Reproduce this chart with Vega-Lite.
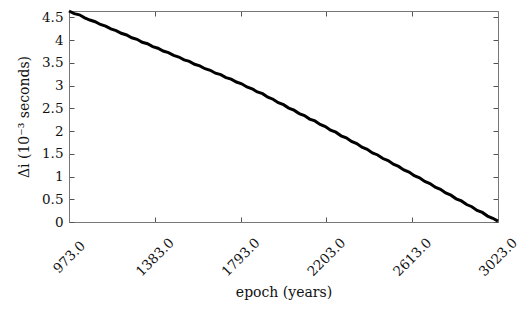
{
  "$schema": "https://vega.github.io/schema/vega-lite/v6.json",
  "width": 429,
  "height": 211,
  "autosize": "none",
  "padding": {"left": 69, "top": 11, "right": 24, "bottom": 89},
  "background": "white",
  "config": {
    "font": "DejaVu Serif",
    "view": {"stroke": null},
    "style": {
      "guide-title": {"font": "DejaVu Serif", "fontWeight": "normal"},
      "guide-label": {"font": "DejaVu Serif"}
    },
    "axis": {
      "labelFont": "DejaVu Serif",
      "titleFont": "DejaVu Serif",
      "labelFontSize": 13.5,
      "titleFontSize": 14,
      "titleFontWeight": "normal",
      "labelColor": "#111",
      "titleColor": "#111",
      "domainColor": "#777",
      "tickColor": "#555",
      "domainWidth": 1,
      "tickWidth": 1,
      "grid": false
    }
  },
  "data": {
    "values": [
      {"epoch": 973, "di": 4.640}, {"epoch": 998, "di": 4.582}, {"epoch": 1023, "di": 4.556},
      {"epoch": 1048, "di": 4.490}, {"epoch": 1073, "di": 4.441}, {"epoch": 1098, "di": 4.404},
      {"epoch": 1123, "di": 4.344}, {"epoch": 1148, "di": 4.306}, {"epoch": 1173, "di": 4.246},
      {"epoch": 1198, "di": 4.210}, {"epoch": 1223, "di": 4.150}, {"epoch": 1248, "di": 4.113},
      {"epoch": 1273, "di": 4.052}, {"epoch": 1298, "di": 4.018}, {"epoch": 1323, "di": 3.952},
      {"epoch": 1348, "di": 3.920}, {"epoch": 1373, "di": 3.858}, {"epoch": 1398, "di": 3.822},
      {"epoch": 1423, "di": 3.760}, {"epoch": 1448, "di": 3.726}, {"epoch": 1473, "di": 3.664},
      {"epoch": 1498, "di": 3.628}, {"epoch": 1523, "di": 3.566}, {"epoch": 1548, "di": 3.532},
      {"epoch": 1573, "di": 3.468}, {"epoch": 1598, "di": 3.434}, {"epoch": 1623, "di": 3.371},
      {"epoch": 1648, "di": 3.336}, {"epoch": 1673, "di": 3.272}, {"epoch": 1698, "di": 3.240},
      {"epoch": 1723, "di": 3.176}, {"epoch": 1748, "di": 3.141}, {"epoch": 1773, "di": 3.078},
      {"epoch": 1798, "di": 3.040}, {"epoch": 1823, "di": 2.970}, {"epoch": 1848, "di": 2.930},
      {"epoch": 1873, "di": 2.860}, {"epoch": 1898, "di": 2.822}, {"epoch": 1923, "di": 2.746},
      {"epoch": 1948, "di": 2.700}, {"epoch": 1973, "di": 2.624}, {"epoch": 1998, "di": 2.580},
      {"epoch": 2023, "di": 2.506}, {"epoch": 2048, "di": 2.460}, {"epoch": 2073, "di": 2.384},
      {"epoch": 2098, "di": 2.342}, {"epoch": 2123, "di": 2.264}, {"epoch": 2148, "di": 2.222},
      {"epoch": 2173, "di": 2.146}, {"epoch": 2198, "di": 2.100}, {"epoch": 2223, "di": 2.020},
      {"epoch": 2248, "di": 1.975}, {"epoch": 2273, "di": 1.895}, {"epoch": 2298, "di": 1.850},
      {"epoch": 2323, "di": 1.770}, {"epoch": 2348, "di": 1.724}, {"epoch": 2373, "di": 1.646},
      {"epoch": 2398, "di": 1.600}, {"epoch": 2423, "di": 1.520}, {"epoch": 2448, "di": 1.474},
      {"epoch": 2473, "di": 1.396}, {"epoch": 2498, "di": 1.350}, {"epoch": 2523, "di": 1.270},
      {"epoch": 2548, "di": 1.222}, {"epoch": 2573, "di": 1.146}, {"epoch": 2598, "di": 1.098},
      {"epoch": 2623, "di": 1.018}, {"epoch": 2648, "di": 0.972}, {"epoch": 2673, "di": 0.892},
      {"epoch": 2698, "di": 0.846}, {"epoch": 2723, "di": 0.764}, {"epoch": 2748, "di": 0.718},
      {"epoch": 2773, "di": 0.638}, {"epoch": 2798, "di": 0.590}, {"epoch": 2823, "di": 0.510},
      {"epoch": 2848, "di": 0.464}, {"epoch": 2873, "di": 0.384}, {"epoch": 2898, "di": 0.336},
      {"epoch": 2923, "di": 0.256}, {"epoch": 2948, "di": 0.210}, {"epoch": 2973, "di": 0.130},
      {"epoch": 2998, "di": 0.082}, {"epoch": 3023, "di": 0.020}
    ]
  },
  "layer": [
    {
      "mark": {"type": "line", "color": "black", "strokeWidth": 3, "clip": false},
      "encoding": {
        "x": {
          "field": "epoch", "type": "quantitative",
          "scale": {"domain": [973, 3023], "nice": false, "zero": false},
          "axis": {
            "orient": "bottom",
            "values": [973, 1383, 1793, 2203, 2613, 3023],
            "format": ".1f",
            "labelAngle": -45,
            "labelAlign": "center",
            "labelBaseline": "middle",
            "tickSize": -5,
            "labelPadding": 40,
            "labelFlush": false,
            "labelOverlap": false,
            "title": "epoch (years)",
            "titleFont": "DejaVu Serif",
            "titlePadding": 7
          }
        },
        "y": {
          "field": "di", "type": "quantitative",
          "scale": {"domain": [0, 4.64], "nice": false, "zero": true},
          "axis": {
            "orient": "left",
            "values": [0, 0.5, 1, 1.5, 2, 2.5, 3, 3.5, 4, 4.5],
            "format": "~g",
            "tickSize": -5,
            "labelPadding": 11,
            "labelFlush": false,
            "labelOverlap": false,
            "title": "Δi (10⁻³ seconds)",
            "titleFont": "DejaVu Serif",
            "titlePadding": 10
          }
        }
      }
    },
    {
      "mark": {"type": "line", "opacity": 0},
      "encoding": {
        "x": {
          "field": "epoch", "type": "quantitative",
          "scale": {"domain": [973, 3023], "nice": false, "zero": false},
          "axis": {
            "orient": "top",
            "values": [973, 1383, 1793, 2203, 2613, 3023],
            "labels": false,
            "tickSize": -5,
            "title": null
          }
        },
        "y": {
          "field": "di", "type": "quantitative",
          "scale": {"domain": [0, 4.64], "nice": false, "zero": true},
          "axis": {
            "orient": "right",
            "values": [0, 0.5, 1, 1.5, 2, 2.5, 3, 3.5, 4, 4.5],
            "labels": false,
            "tickSize": -5,
            "title": null
          }
        }
      }
    }
  ],
  "resolve": {"scale": {"x": "independent", "y": "independent"}}
}
